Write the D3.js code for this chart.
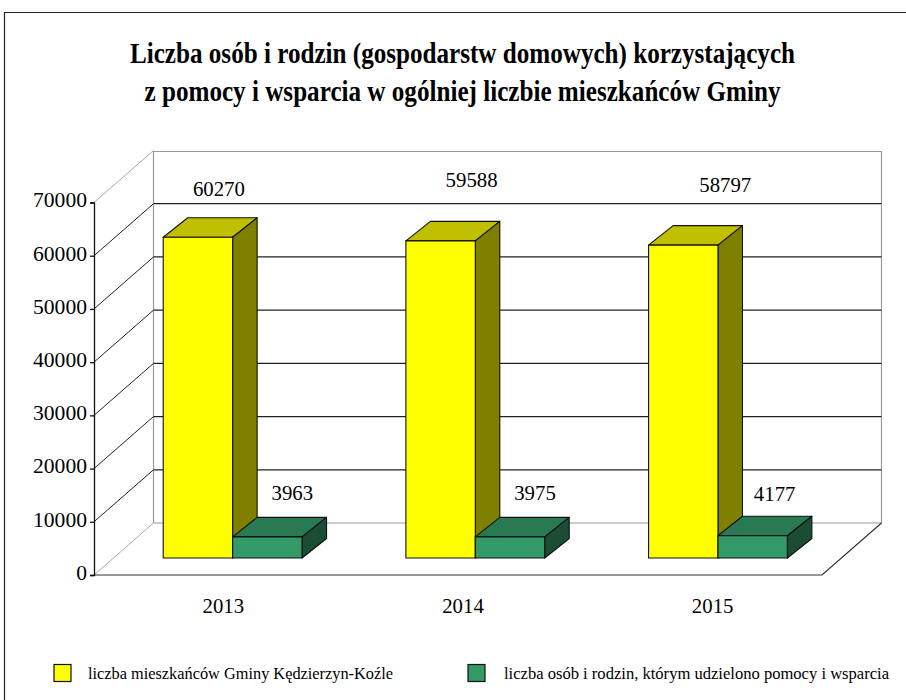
<!DOCTYPE html>
<html><head><meta charset="utf-8">
<script src="https://cdnjs.cloudflare.com/ajax/libs/d3/7.8.5/d3.min.js"></script>
<style>html,body{margin:0;padding:0;background:#fff}svg{display:block}text{font-family:"Liberation Serif",serif;fill:#000}</style>
</head><body><div id="c"></div>
<script>
const years = ["2013","2014","2015"];
const residents = [60270,59588,58797];
const assisted = [3963,3975,4177];
const seriesNames = ["liczba mieszkańców Gminy Kędzierzyn-Koźle","liczba osób i rodzin, którym udzielono pomocy i wsparcia"];
const titleLines = ["Liczba osób i rodzin (gospodarstw domowych) korzystających","z pomocy i wsparcia w ogólniej liczbie mieszkańców Gminy"];
const yTicks = [0,10000,20000,30000,40000,50000,60000,70000];

const W=906,H=700;
const svg=d3.select("#c").append("svg").attr("width",W).attr("height",H);
const y=d3.scaleLinear().domain([0,70000]).range([575,202.5]);
const x0=d3.scaleBand().domain(years).range([94,822]);
const x1=d3.scaleBand().domain([0,1]).range([0,x0.bandwidth()]).paddingInner(0).paddingOuter(0.748);
const DX=59.5,DY=-52;            // floor depth
const BDX=24.5,BDY=-19.5;        // bar depth
const barShiftX=17.3, barShiftY=-17;
const L=x0.range()[0],R=x0.range()[1];
const path=pts=>d3.line()(pts);
const fmt=d3.format("d");
const digitW=10.4;

// border
svg.append("path").attr("d",path([[4.5,H],[4.5,12.5],[W,12.5]])).attr("fill","none").attr("stroke","#222").attr("stroke-width",1.2);

// walls
const g=svg.append("g").attr("fill","none");
const grey="#9a9a9a",dark="#222";
g.append("path").attr("d",path([[L+DX,y(0)+DY],[L+DX,y(70000)+DY+1],[R+DX,y(70000)+DY+1],[R+DX,y(0)+DY],[L+DX,y(0)+DY]])).attr("stroke",grey).attr("stroke-width",1.2);
yTicks.forEach(v=>{
  const inner=v>0&&v<70000;
  g.append("path").attr("d",path([[L,y(v)],[L+DX,y(v)+DY]])).attr("stroke",inner?dark:"#aaa").attr("stroke-width",1);
  if(inner) g.append("path").attr("d",path([[L+DX,y(v)+DY],[R+DX,y(v)+DY]])).attr("stroke",dark).attr("stroke-width",1.2);
});
// floor
g.append("path").attr("d",path([[L,y(0)],[R,y(0)],[R+DX,y(0)+DY]])).attr("stroke","#333").attr("stroke-width",1.2);

// axis
const ax=svg.append("g").attr("transform",`translate(${L},0)`)
  .call(d3.axisLeft(y).tickValues(yTicks).tickFormat(fmt).tickSize(4).tickPadding(3));
ax.selectAll("path,line").attr("stroke","#111").attr("stroke-width",1.3);
ax.selectAll("text").attr("font-size",22).attr("dy","0.2em").attr("font-family","Liberation Serif")
  .attr("textLength",d=>fmt(d).length*10.8).attr("lengthAdjust","spacingAndGlyphs");

// 3D bars
function bar(x,w,v,front,top,side){
  const b=y(0)+barShiftY, t=y(v)+barShiftY, s=svg.append("g").attr("stroke","#111").attr("stroke-width",1.1).attr("stroke-linejoin","round");
  s.append("path").attr("d",path([[x,t],[x+BDX,t+BDY],[x+w+BDX,t+BDY],[x+w,t]])+"Z").attr("fill",top);
  s.append("path").attr("d",path([[x+w,t],[x+w+BDX,t+BDY],[x+w+BDX,b+BDY],[x+w,b]])+"Z").attr("fill",side);
  s.append("path").attr("d",path([[x,t],[x+w,t],[x+w,b],[x,b]])+"Z").attr("fill",front);
}
function num(x,yy,s){
  svg.append("text").attr("x",x).attr("y",yy).attr("text-anchor","middle").attr("font-size",22)
    .attr("textLength",s.length*digitW).attr("lengthAdjust","spacingAndGlyphs").text(s);
}
const lift1=[48,61,60], lift2=[44,44,42];
const nudge1=[21,31,42], nudge2=[25,25,22], nudgeCat=[8,5,12];
years.forEach((yr,i)=>{
  const xa=x0(yr)+x1(0)+barShiftX, xb=x0(yr)+x1(1)+barShiftX, w=x1.bandwidth();
  bar(xa,w,residents[i],"#ffff00","#c0c000","#808000");
  bar(xb,w,assisted[i],"#339966","#297a52","#1a4d33");
  num(xa+w/2+nudge1[i],y(residents[i])+barShiftY-lift1[i]+7,fmt(residents[i]));
  num(xb+w/2+nudge2[i],y(assisted[i])+barShiftY-lift2[i]+7,fmt(assisted[i]));
  num(x0(yr)+x0.bandwidth()/2+nudgeCat[i],613,yr);
});

// title
const tl=[[130,665,63],[144.5,636,101]];
titleLines.forEach((t,i)=>svg.append("text").attr("x",tl[i][0]).attr("y",tl[i][2]).attr("font-size",29).attr("font-weight","bold")
  .attr("textLength",tl[i][1]).attr("lengthAdjust","spacingAndGlyphs").text(t));

// legend
const lg=[[54,88,305],[468,504,385]],col=["#ffff00","#339966"];
seriesNames.forEach((t,i)=>{
  svg.append("rect").attr("x",lg[i][0]).attr("y",664.5).attr("width",17).attr("height",17).attr("fill",col[i]).attr("stroke","#111").attr("stroke-width",1.2);
  svg.append("text").attr("x",lg[i][1]).attr("y",679).attr("font-size",17).attr("textLength",lg[i][2]).attr("lengthAdjust","spacingAndGlyphs").text(t);
});
</script></body></html>
